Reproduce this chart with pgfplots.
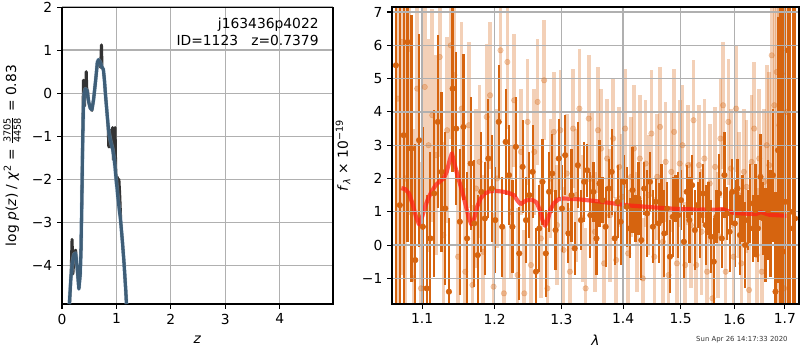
\documentclass[border=0pt]{standalone}
\usepackage{fontspec}
\setmainfont{DejaVu Sans}
\usepackage{pgfplots}
\usepackage{pgfplotstable}
\pgfplotsset{compat=1.18}
\definecolor{darkor}{RGB}{214,100,15}
\definecolor{gridc}{RGB}{176,176,176}
\definecolor{pzblue}{RGB}{62,94,120}
\definecolor{pzlight}{RGB}{150,190,225}
\definecolor{pzdark}{RGB}{51,51,51}
\definecolor{modred}{RGB}{255,30,20}

\pgfplotstableread{
l f e
1.066 5.4 7.5
1.071 1.2 6
1.076 3.3 5.5
1.081 6.1 6
1.086 2.9 4
1.091 -0.45 3.5
1.096 3.15 3.2
1.101 0.55 3
1.106 -1.3 2.8
1.111 0.2 2.6
1.116 1.55 2.5
1.121 3.7 2.6
1.126 2.2 2.4
1.131 1.1 2.3
1.136 -1.4 2.2
1.141 4.7 2.5
1.146 3.5 2.3
1.151 0.7 2.2
1.156 3.55 2.2
1.161 0.2 2.0
1.166 2.45 2.0
1.171 0.65 1.9
1.176 -0.3 1.8
1.181 1.6 1.8
1.186 0.8 1.7
1.191 2.6 1.8
1.196 1.7 1.6
1.201 0.75 1.6
1.206 3.7 1.7
1.211 0.55 1.5
1.216 3.1 1.6
1.221 2.1 1.5
1.226 0.55 1.4
1.231 2.95 1.5
1.236 -0.25 1.4
1.241 2.35 1.4
1.246 0.75 1.3
1.251 1.5 1.3
1.256 2.2 1.4
1.261 -0.8 1.3
1.266 0.5 1.3
1.271 1.9 1.3
1.276 -0.25 1.3
1.281 1.6 1.2
1.286 2.15 1.2
1.291 0.45 1.2
1.296 2.6 1.2
1.301 1.1 1.3
1.306 2.7 1.2
1.311 0.35 0.9
1.316 1.5 1.4
1.321 -0.1 0.8
1.326 2.4 1.3
1.331 0.75 0.9
1.336 1.9 1.2
1.341 2.25 0.8
1.346 0.9 1.3
1.351 1.6 0.9
1.356 0.2 1.1
1.361 1.85 1.3
1.366 1.35 0.7
1.371 0.55 1.2
1.376 1.7 0.9
1.381 2.2 1.3
1.386 0.2 0.8
1.391 1.3 1.1
1.396 0.7 1.3
1.401 1.9 0.8
1.406 1.15 1.2
1.411 0.5 0.9
1.416 1.65 1.3
1.421 0.8 0.7
1.426 1.4 1.1
1.431 0.15 1.2
1.436 1.7 0.8
1.441 0.95 1.3
1.446 1.9 0.9
1.451 0.55 1.1
1.456 1.3 0.7
1.461 0.65 1.2
1.466 1.55 0.9
1.471 0.35 1.3
1.476 1.1 0.8
1.481 -0.35 1.1
1.486 0.85 1.2
1.491 1.4 0.7
1.496 0.9 1.3
1.501 1.35 0.9
1.506 0.1 1.1
1.511 1.6 0.8
1.516 0.75 1.3
1.521 1.8 0.9
1.526 0.45 1.2
1.531 1.2 0.7
1.536 0.9 1.3
1.541 1.55 0.9
1.546 0.6 1.2
1.551 1.1 0.8
1.556 0.25 1.1
1.561 -0.5 1.3
1.566 0.85 0.8
1.571 1.55 1.2
1.576 0.2 0.9
1.581 2.1 1.3
1.586 0.95 0.8
1.591 0.4 1.2
1.596 1.6 1.0
1.601 0.65 1.3
1.606 1.7 0.9
1.611 0.3 1.2
1.616 1.1 1.0
1.621 0.0 1.3
1.626 0.75 0.9
1.631 1.25 1.2
1.636 0.5 1.0
1.641 1.05 1.4
1.646 0.5 1.0
1.651 2.05 1.3
1.656 0.8 1.1
1.661 0.3 1.4
1.666 1.05 1.5
1.671 0.65 1.6
1.676 2.1 2.0
1.681 -1.4 3
1.686 2.85 4
1.691 1.7 6
1.696 -0.2 8
1.701 1.3 10
1.706 5.85 10
1.711 0.5 10
1.716 1.0 10
1.721 0.8 10
}\darkdata

\pgfplotstableread{
l f e
1.0685 4.4 8
1.0735 6.1 7
1.0785 2.0 6
1.0835 5.9 5
1.0885 -1.0 4.5
1.0935 4.7 4
1.0985 -1.3 3.8
1.1035 4.75 3.5
1.1085 3.0 3.2
1.1135 3.9 3.2
1.1185 2.7 3.0
1.1235 5.65 3.0
1.1285 0.3 2.8
1.1335 3.45 2.8
1.1385 6.0 2.8
1.1435 5.1 2.8
1.1485 -0.35 2.6
1.1535 4.1 2.6
1.1585 -0.8 2.5
1.1635 3.6 2.5
1.1685 -1.2 2.4
1.1735 1.7 2.4
1.1785 2.5 2.3
1.1835 -0.2 2.3
1.1885 3.85 2.2
1.1935 4.5 2.2
1.1985 -1.25 2.2
1.2035 2.0 2.1
1.2085 5.85 2.1
1.2135 -1.45 2.0
1.2185 5.5 2.0
1.2235 1.0 2.0
1.2285 4.35 2.0
1.2335 -0.9 2.0
1.2385 2.8 1.9
1.2435 -1.45 1.9
1.2485 3.7 1.9
1.2535 -0.6 1.9
1.2585 2.8 1.9
1.2635 4.3 1.9
1.2685 0.2 1.8
1.2735 4.95 1.8
1.2785 -1.3 1.8
1.2835 2.0 1.8
1.2885 3.4 1.8
1.2935 0.6 1.8
1.2985 3.45 1.8
1.3035 -0.15 1.9
1.3085 2.15 1.8
1.3135 -0.8 1.9
1.3185 3.5 1.8
1.3235 1.5 2.0
1.3285 4.1 1.8
1.3335 0.8 1.9
1.3385 -1.3 1.8
1.3435 3.8 1.9
1.3485 2.0 2.0
1.3535 0.4 1.8
1.3585 3.45 1.9
1.3635 2.9 1.8
1.3685 -0.55 1.9
1.3735 2.6 1.8
1.3785 0.9 2.0
1.3835 3.2 1.8
1.3885 -0.45 1.9
1.3935 2.35 1.8
1.3985 1.45 1.9
1.4035 3.5 1.8
1.4085 -0.25 1.9
1.4135 2.05 1.8
1.4185 2.9 1.9
1.4235 0.4 1.8
1.4285 2.6 1.9
1.4335 -1.0 1.8
1.4385 2.45 1.9
1.4435 1.5 1.8
1.4485 3.35 1.9
1.4535 -0.35 1.8
1.4585 2.05 1.9
1.4635 3.55 1.8
1.4685 0.1 1.9
1.4735 2.5 1.8
1.4785 -0.9 1.9
1.4835 2.2 1.8
1.4885 3.4 1.9
1.4935 -0.55 1.8
1.4985 2.45 1.9
1.5035 3.0 1.8
1.5085 -0.6 1.9
1.5135 2.4 1.8
1.5185 0.6 1.9
1.5235 3.75 1.8
1.5285 -0.6 1.9
1.5335 2.4 1.8
1.5385 0.4 1.9
1.5435 2.6 1.8
1.5485 -0.8 1.9
1.5535 1.85 1.8
1.5585 -1.6 1.9
1.5635 2.35 1.8
1.5685 0.3 1.9
1.5735 3.2 1.8
1.5785 4.2 1.9
1.5835 -0.8 1.8
1.5885 3.7 1.9
1.5935 2.3 1.8
1.5985 -0.35 1.9
1.6035 4.1 1.9
1.6085 1.5 1.9
1.6135 -0.55 1.9
1.6185 2.2 1.9
1.6235 1.75 2.0
1.6285 -1.35 2.0
1.6335 2.5 2.0
1.6385 3.5 2.0
1.6435 -0.3 2.0
1.6485 2.6 2.1
1.6535 -0.8 2.1
1.6585 1.9 2.2
1.6635 3.0 2.4
1.6685 2.4 2.8
1.6735 5.7 3.5
1.6785 4.2 4
1.6835 5.2 5
1.6885 3.6 6
1.6935 5.15 7
1.6985 -1.3 8
1.7035 4.0 9
}\lightdata

\pgfplotsset{mystyle/.style={
  scale only axis,
  axis line style={black,line width=0.8pt},
  tick align=outside, major tick length=3.5pt,
  tick style={black,line width=0.8pt},
  xtick pos=left, ytick pos=left,
  grid=major, grid style={gridc,line width=0.9pt},
  tick label style={font=\fontsize{10}{12}\selectfont},
  label style={font=\fontsize{10}{12}\selectfont},
}}

\begin{document}
\begin{tikzpicture}
\path[use as bounding box] (0,0) rectangle (578.16pt,252.95pt);

\begin{axis}[mystyle,
  at={(44.81pt,33.24pt)}, anchor=south west,
  width=195.85pt, height=214.6pt,
  xmin=0, xmax=4.98, ymin=-4.9, ymax=2,
  xtick={0,1,2,3,4}, xticklabels={0,1,2,3,4},
  ytick={-4,-3,-2,-1,0,1,2}, yticklabels={−4,−3,−2,−1,0,1,2},
  xlabel={\textit{z}},
  xlabel style={at={(axis description cs:0.5,-0.121)},anchor=center},
  ylabel={log \textit{p}(\textit{z}) / \textit{χ}\textsuperscript{2} = $\frac{\hbox{\fontsize{7}{7}\selectfont 3705}}{\hbox{\fontsize{7}{7}\selectfont 4458}}$ = 0.83},
  ylabel style={at={(axis description cs:-0.184,0.5)},anchor=center},
]
\addplot[pzdark, line width=2.2pt, line join=round] coordinates {
(0.14,-4.9) (0.17,-4.1) (0.185,-3.4) (0.20,-4.2) (0.215,-3.9) (0.23,-3.7) (0.25,-3.65) (0.28,-4.1) (0.31,-4.55) (0.335,-4.2) (0.35,-3.6) (0.365,-2.4) (0.38,-1.0) (0.395,0.3) (0.405,0.25) (0.415,-0.3) (0.425,0.3) (0.435,0.0) (0.445,0.5) (0.455,0.1) (0.47,0.05) (0.49,-0.2) (0.52,-0.35) (0.55,-0.4) (0.58,-0.15) (0.61,0.2) (0.63,0.45) (0.65,0.72) (0.67,0.75) (0.69,0.7) (0.71,0.6) (0.725,1.12) (0.735,0.6) (0.76,0.55) (0.78,0.3) (0.80,-0.05) (0.83,-0.5) (0.85,-0.85) (0.86,-1.25) (0.875,-0.85) (0.89,-1.25) (0.90,-0.95) (0.915,-1.15) (0.93,-0.8) (0.945,-1.55) (0.96,-1.3) (0.975,-0.8) (0.985,-1.7) (1.0,-2.1) (1.015,-1.95) (1.03,-2.4) (1.045,-2.0) (1.06,-2.35) (1.08,-3.0) (1.11,-3.45) (1.14,-3.95) (1.17,-4.55) (1.185,-4.9)
};
\addplot[pzlight, opacity=0.4, line width=3.0pt, line join=round] coordinates {
(0.134,-4.9) (0.16,-4.35) (0.19,-3.95) (0.22,-3.75) (0.25,-3.72) (0.28,-4.05) (0.31,-4.55) (0.335,-4.2) (0.35,-3.6) (0.365,-2.5) (0.38,-1.2) (0.395,-0.3) (0.41,0.0) (0.43,0.1) (0.46,0.05) (0.49,-0.2) (0.52,-0.35) (0.55,-0.38) (0.58,-0.15) (0.61,0.2) (0.63,0.45) (0.65,0.72) (0.67,0.78) (0.70,0.72) (0.73,0.62) (0.76,0.55) (0.78,0.3) (0.80,-0.05) (0.83,-0.5) (0.86,-0.9) (0.89,-1.1) (0.93,-1.3) (0.96,-1.55) (0.99,-1.95) (1.02,-2.35) (1.05,-2.7) (1.08,-3.0) (1.11,-3.45) (1.14,-3.95) (1.17,-4.55) (1.185,-4.9)
};
\addplot[pzblue, line width=2.2pt, line join=round] coordinates {
(0.134,-4.9) (0.16,-4.35) (0.19,-3.95) (0.22,-3.75) (0.25,-3.72) (0.28,-4.05) (0.31,-4.55) (0.335,-4.2) (0.35,-3.6) (0.365,-2.5) (0.38,-1.2) (0.395,-0.3) (0.41,0.0) (0.43,0.1) (0.46,0.05) (0.49,-0.2) (0.52,-0.35) (0.55,-0.38) (0.58,-0.15) (0.61,0.2) (0.63,0.45) (0.65,0.72) (0.67,0.78) (0.70,0.72) (0.73,0.62) (0.76,0.55) (0.78,0.3) (0.80,-0.05) (0.83,-0.5) (0.86,-0.9) (0.89,-1.1) (0.93,-1.3) (0.96,-1.55) (0.99,-1.95) (1.02,-2.35) (1.05,-2.7) (1.08,-3.0) (1.11,-3.45) (1.14,-3.95) (1.17,-4.55) (1.185,-4.9)
};
\node[anchor=north east, align=right, font=\fontsize{10}{12.5}\selectfont, inner sep=0pt] at (rel axis cs:0.948,0.965) {j163436p4022\\ID=1123\ \ \ z=0.7379};
\end{axis}

\begin{axis}[mystyle,
  at={(283.3pt,33.24pt)}, anchor=south west,
  width=294.1pt, height=214.6pt,
  xmode=log, xmin=1.061, xmax=1.729, ymin=-1.77, ymax=7.15,
  xtick={1.1,1.2,1.3,1.4,1.5,1.6,1.7}, xticklabels={1.1,1.2,1.3,1.4,1.5,1.6,1.7},
  minor xtick={},
  ytick={-1,0,1,2,3,4,5,6,7}, yticklabels={−1,0,1,2,3,4,5,6,7},
  axis on top,
  xlabel={\textit{λ}},
  xlabel style={at={(axis description cs:0.5,-0.121)},anchor=center},
  ylabel={\textit{f}\textsubscript{\textit{λ}} × 10\textsuperscript{−19}},
  ylabel style={at={(axis description cs:-0.1205,0.5)},anchor=center},
]
\addplot[darkor, only marks, mark=*, mark size=2pt, mark options={fill=darkor, draw=darkor, opacity=0.3},
  error bars/.cd, y dir=both, y explicit, error mark=none,
  error bar style={line width=2.6pt, darkor, opacity=0.3}]
  table[x=l, y=f, y error=e] {\lightdata};
\addplot[darkor, only marks, mark=*, mark size=2pt, mark options={fill=darkor, draw=darkor},
  error bars/.cd, y dir=both, y explicit, error mark=none,
  error bar style={line width=1.6pt, darkor}]
  table[x=l, y=f, y error=e] {\darkdata};
\addplot[modred, opacity=0.72, line width=3pt, line join=round] coordinates {
(1.073,1.71) (1.078,1.68) (1.083,1.55) (1.088,1.2) (1.092,0.85) (1.096,0.62) (1.100,0.85) (1.104,1.15) (1.108,1.40) (1.113,1.62) (1.118,1.80) (1.124,1.92) (1.129,2.0) (1.133,2.2) (1.137,2.55) (1.140,2.76) (1.143,2.5) (1.147,2.15) (1.151,1.85) (1.155,1.55) (1.159,1.2) (1.163,0.85) (1.167,0.62) (1.171,0.8) (1.175,1.15) (1.180,1.40) (1.186,1.55) (1.192,1.61) (1.200,1.63) (1.210,1.61) (1.220,1.57) (1.228,1.5) (1.234,1.32) (1.238,1.23) (1.243,1.3) (1.250,1.37) (1.256,1.35) (1.262,1.28) (1.267,1.05) (1.271,0.75) (1.275,0.58) (1.279,0.75) (1.283,1.05) (1.288,1.25) (1.295,1.37) (1.303,1.40) (1.325,1.38) (1.360,1.31) (1.410,1.19) (1.470,1.11) (1.500,1.08) (1.565,1.06) (1.578,1.08) (1.590,1.01) (1.600,0.96) (1.642,0.93) (1.652,0.99) (1.660,0.95) (1.669,0.91) (1.703,0.88)
};
\addplot[black, line width=1.4pt, dash pattern=on 1.4pt off 2.2pt] coordinates {(1.061,0) (1.729,0)};
\end{axis}

\node[font=\fontsize{5}{6}\selectfont, text=black!80] at (536.2pt,7.2pt) {Sun Apr 26 14:17:33 2020};
\end{tikzpicture}
\end{document}
